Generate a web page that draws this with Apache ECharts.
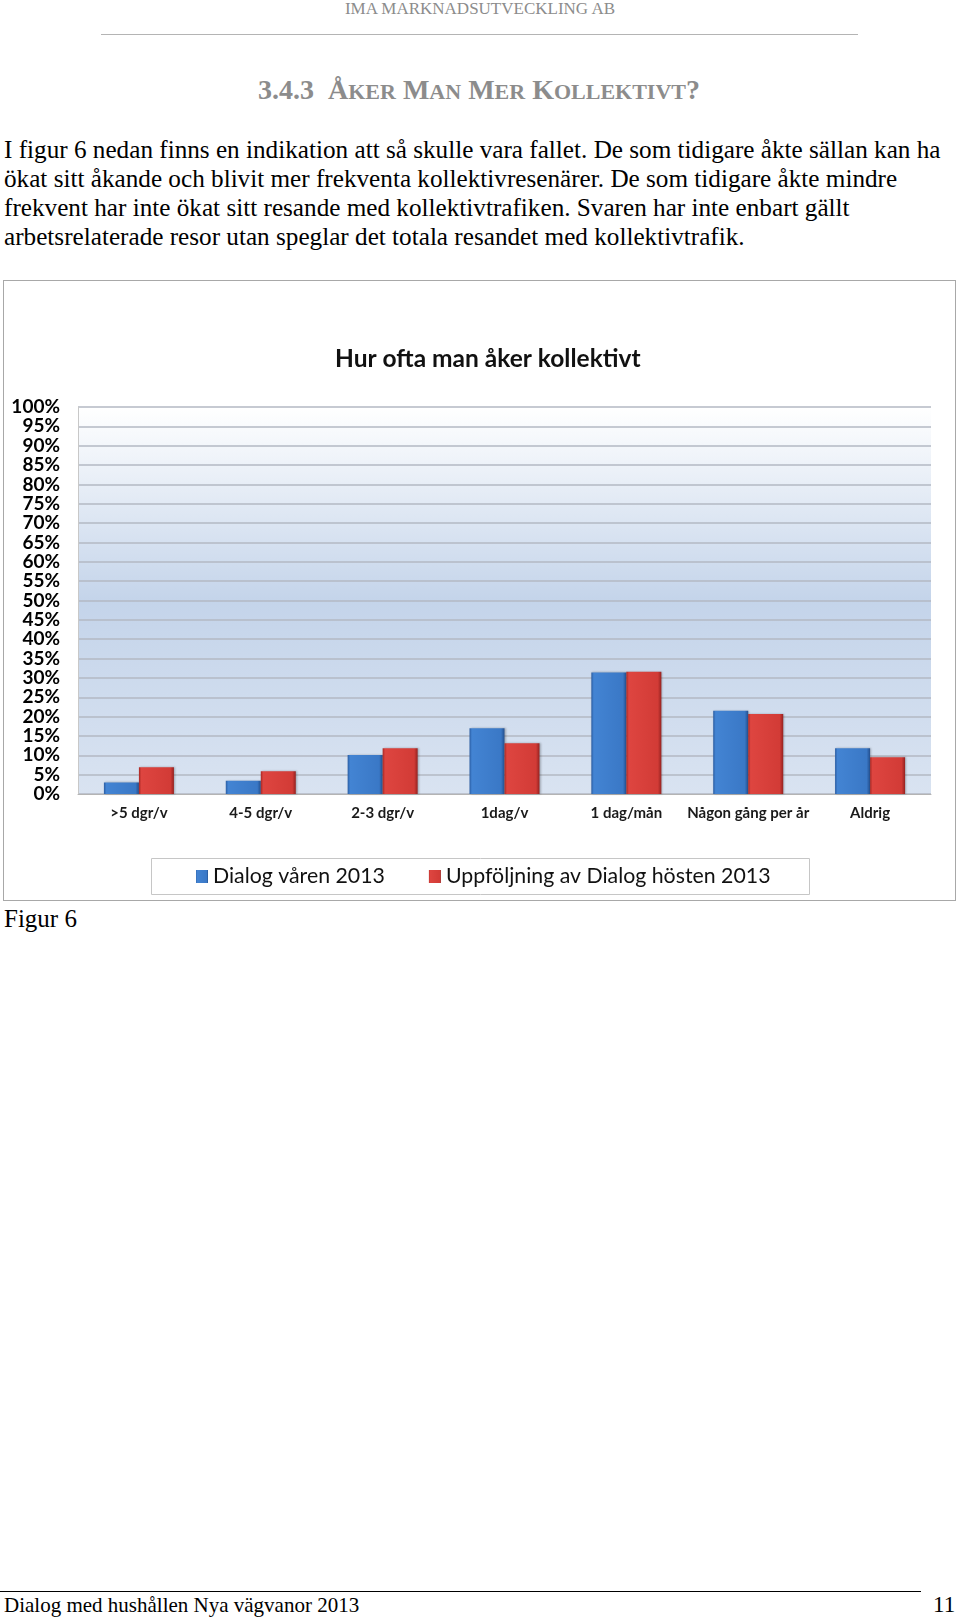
<!DOCTYPE html>
<html>
<head>
<meta charset="utf-8">
<script src="https://cdn.jsdelivr.net/npm/echarts@6/dist/echarts.min.js"></script>
<style>
  html, body { margin: 0; padding: 0; background: #fff; }
  body { width: 960px; height: 1617px; position: relative; overflow: hidden; font-family: "Liberation Serif", "DejaVu Serif", serif; color: #000; }
  .abs { position: absolute; white-space: nowrap; }
  #hdr { left: 0; width: 960px; top: 0; text-align: center; font-size: 17px; line-height: 17px; color: #8c8c8c; }
  #rule { left: 101px; top: 34px; width: 757px; height: 1px; background: #b4b4b4; }
  #heading { left: 258px; top: 74px; font-size: 28px; line-height: 32px; font-weight: bold; color: #8c8c8c; }
  #heading .sc { font-size: 22px; }
  #para { left: 4px; top: 135px; font-size: 25.2px; line-height: 29px; }
  #chart { position: absolute; left: 3px; top: 280px; width: 951px; height: 619px; border: 1px solid #a8a8a8; }
  #fig { left: 4px; top: 904px; font-size: 25px; line-height: 29px; }
  #frule { left: 0; top: 1591px; width: 921px; height: 1px; background: #000; }
  #foot { left: 4px; top: 1593px; font-size: 21px; line-height: 24px; }
  #pnum { left: 933px; top: 1592px; font-size: 23px; line-height: 25px; }
</style>
</head>
<body>
<div id="hdr" class="abs">IMA MARKNADSUTVECKLING AB</div>
<div id="rule" class="abs"></div>
<div id="heading" class="abs">3.4.3&nbsp;&nbsp;Å<span class="sc">KER</span> M<span class="sc">AN</span> M<span class="sc">ER</span> K<span class="sc">OLLEKTIVT</span>?</div>
<div id="para" class="abs">I figur 6 nedan finns en indikation att så skulle vara fallet. De som tidigare åkte sällan kan ha<br>ökat sitt åkande och blivit mer frekventa kollektivresenärer. De som tidigare åkte mindre<br>frekvent har inte ökat sitt resande med kollektivtrafiken. Svaren har inte enbart gällt<br>arbetsrelaterade resor utan speglar det totala resandet med kollektivtrafik.</div>
<div id="chart"></div>
<div id="fig" class="abs">Figur 6</div>
<div id="frule" class="abs"></div>
<div id="foot" class="abs">Dialog med hushållen Nya vägvanor 2013</div>
<div id="pnum" class="abs">11</div>
<script>
const chartTitle = 'Hur ofta man åker kollektivt';
const categories = ['>5 dgr/v', '4-5 dgr/v', '2-3 dgr/v', '1dag/v', '1 dag/mån', 'Någon gång per år', 'Aldrig'];
const seriesNames = ['Dialog våren 2013', 'Uppföljning av Dialog hösten 2013'];
const spring2013 = [3.0, 3.4, 10.1, 17.0, 31.4, 21.5, 11.8];
const autumn2013 = [6.9, 5.9, 11.8, 13.1, 31.6, 20.7, 9.5];
const yTickStep = 5;

const G = echarts.graphic.LinearGradient;
const blueFill = new G(0, 0, 1, 0, [
  {offset: 0, color: '#2a5da3'}, {offset: 0.07, color: '#4384d3'},
  {offset: 0.9, color: '#3a78c6'}, {offset: 1, color: '#234f8e'}]);
const redFill = new G(0, 0, 1, 0, [
  {offset: 0, color: '#a82824'}, {offset: 0.07, color: '#de4540'},
  {offset: 0.9, color: '#d23b36'}, {offset: 1, color: '#952220'}]);

const chart = echarts.init(document.getElementById('chart'), null, {renderer: 'canvas'});
chart.setOption({
  animation: false,
  backgroundColor: '#ffffff',
  title: {
    text: chartTitle, left: 331, top: 66, padding: 0,
    textStyle: {fontFamily: 'Lato', fontWeight: 'bold', fontSize: 24.5, color: '#111'}
  },
  grid: {
    left: 74, top: 126, width: 853, height: 387, show: true, borderWidth: 0,
    backgroundColor: new G(0, 0, 0, 1, [
      {offset: 0, color: '#ffffff'}, {offset: 0.5, color: '#c4d4ea'}, {offset: 1, color: '#d9e3f1'}])
  },
  graphic: [{
    type: 'rect', left: 147, top: 577, z: 0,
    shape: {width: 658, height: 36},
    style: {fill: '#ffffff', stroke: '#c6c6c6', lineWidth: 1}
  }],
  legend: {
    left: 192, top: 585, padding: 0, itemWidth: 12, itemHeight: 13, itemGap: 44,
    icon: 'rect', z: 5,
    textStyle: {fontFamily: 'Lato', fontSize: 21.3, color: '#111'},
    data: seriesNames
  },
  xAxis: {
    type: 'category', data: categories,
    axisLine: {show: true, lineStyle: {color: '#b4b4b4', width: 1}},
    axisTick: {show: false},
    axisLabel: {interval: 0, margin: 12, fontFamily: 'Lato', fontWeight: 'bold', fontSize: 15, color: '#1a1a1a'}
  },
  yAxis: {
    type: 'value', min: 0, max: 100, interval: yTickStep,
    axisLine: {show: true, lineStyle: {color: '#c8c8c8', width: 1}},
    axisTick: {show: false},
    axisLabel: {formatter: '{value}%', margin: 18, fontFamily: 'Lato', fontWeight: 'bold', fontSize: 19, color: '#000'},
    splitLine: {show: true, lineStyle: {color: '#b3b9c3', width: 1.5}}
  },
  series: [
    {name: seriesNames[0], type: 'bar', data: spring2013, barWidth: 35, barGap: '0%',
     itemStyle: {color: blueFill, shadowColor: 'rgba(0,0,0,0.25)', shadowBlur: 2, shadowOffsetX: 1}},
    {name: seriesNames[1], type: 'bar', data: autumn2013, barWidth: 35, barGap: '0%',
     itemStyle: {color: redFill, shadowColor: 'rgba(0,0,0,0.25)', shadowBlur: 2, shadowOffsetX: 1}}
  ]
});
</script>
</body>
</html>
